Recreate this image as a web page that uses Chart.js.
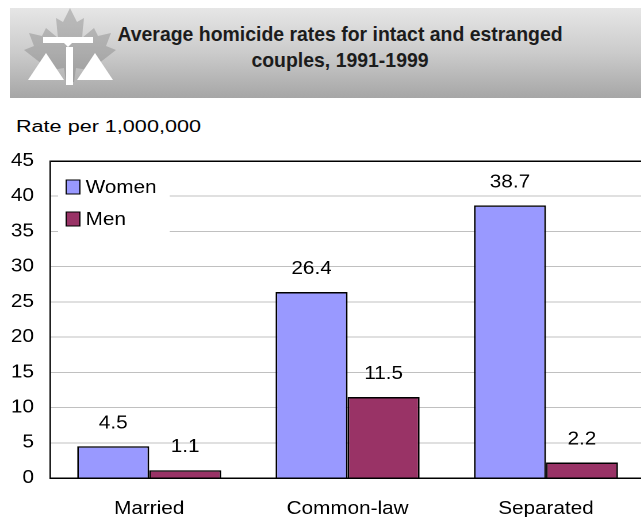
<!DOCTYPE html>
<html>
<head>
<meta charset="utf-8">
<script src="https://cdn.jsdelivr.net/npm/chart.js@4"></script>
<style>
  html, body { margin: 0; padding: 0; background: #fff; overflow: hidden; }
  body { width: 641px; height: 517px; position: relative; font-family: "Liberation Sans", Arial, sans-serif; }
  .banner {
    position: absolute; left: 10px; top: 8px; width: 631px; height: 90px;
    background: linear-gradient(to bottom, #e6e6e6 0%, #cbcbcb 50%, #a6a6a6 100%);
    overflow: hidden;
  }
  .banner svg { position: absolute; left: 0; top: 0; }
  .banner__title {
    position: absolute; left: 330px; top: 13px; white-space: nowrap;
    text-align: center; color: #1c1c1c;
    font-family: "Liberation Sans", Arial, sans-serif;
    font-weight: bold; font-size: 21px; line-height: 26px;
    transform: translateX(-50%);
  }
  .unit { position: absolute; left: 16px; top: 118px; font-size: 16px; color: #000; white-space: nowrap;
          transform: scaleX(1.35); transform-origin: 0 0; }
  /* the source picture is a little wider than tall, so the chart is stretched sideways */
  .stretch { position: absolute; left: 0; top: 0; width: 574px; height: 517px; transform: scaleX(1.15); transform-origin: 0 0; }
  #chart { position: absolute; left: 0; top: 0; }
</style>
</head>
<body>
<div class="banner">
  <svg width="120" height="90" viewBox="0 0 120 90">
    <!-- maple leaf -->
    <path fill="rgba(120,120,120,0.38)" d="M60 0 L67 14 L74 10 L72 30 L84 20 L88 28 L101 25 L96 38 L106 42 L88 56 L90 64 L66 60 L64 74 L56 74 L54 60 L30 64 L32 56 L14 42 L24 38 L19 25 L32 28 L36 20 L48 30 L46 10 L53 14 Z"/>
    <!-- scales -->
    <polygon fill="#fff" points="33,29 83,29 83,35 62,35 58,39 54,35 33,35"/>
    <rect fill="#fff" x="56" y="39" width="7" height="38"/>
    <polygon fill="#fff" points="36,45 54,72 18,72"/>
    <polygon fill="#fff" points="85,45 103,72 67,72"/>
  </svg>
  <div class="banner__title" id="title">Average homicide rates for intact and estranged<br>couples, 1991-1999</div>
</div>

<div class="unit">Rate per 1,000,000</div>
<div class="stretch">
  <canvas id="chart" width="574" height="517"></canvas>
</div>

<script>
'use strict';

const categories = ['Married', 'Common-law', 'Separated'];
const seriesNames = ['Women', 'Men'];
const womenRates = [4.5, 26.4, 38.7];
const menRates = [1.1, 11.5, 2.2];
const yTickStep = 5;
const yMax = 45;

const FONT = '"Liberation Sans", Arial, sans-serif';
const colors = ['#9999ff', '#993366'];

// title uses a narrow face in the source; squeeze a regular bold one to the same width
const title = document.getElementById('title');
title.style.transform = `translateX(-50%) scaleX(${(445 / title.offsetWidth).toFixed(3)})`;

// value labels above each bar
const valueLabels = {
  id: 'valueLabels',
  afterDatasetsDraw(chart) {
    const ctx = chart.ctx;
    ctx.save();
    ctx.font = `18px ${FONT}`;
    ctx.fillStyle = '#000';
    ctx.textAlign = 'center';
    ctx.textBaseline = 'middle';
    chart.data.datasets.forEach((ds, di) => {
      chart.getDatasetMeta(di).data.forEach((bar, i) => {
        ctx.fillText(ds.data[i].toFixed(1), bar.x, bar.y - 23);
      });
    });
    ctx.restore();
  }
};

// legend box sitting inside the plot area
const innerLegend = {
  id: 'innerLegend',
  afterDraw(chart) {
    const ctx = chart.ctx;
    const x = chart.chartArea.left + 7, y = chart.chartArea.top + 9;
    ctx.save();
    ctx.fillStyle = '#fff';
    ctx.fillRect(x, y, 97, 64);
    ctx.font = `18px ${FONT}`;
    ctx.textBaseline = 'middle';
    chart.data.datasets.forEach((ds, i) => {
      const cy = y + 17 + i * 32;
      ctx.fillStyle = ds.backgroundColor;
      ctx.fillRect(x + 7, cy - 7, 12, 14);
      ctx.strokeStyle = '#000';
      ctx.lineWidth = 1;
      ctx.strokeRect(x + 7, cy - 7, 12, 14);
      ctx.fillStyle = '#000';
      ctx.fillText(ds.label, x + 24, cy + 1);
    });
    ctx.restore();
  }
};

new Chart(document.getElementById('chart'), {
  type: 'bar',
  data: {
    labels: categories,
    datasets: [
      { label: seriesNames[0], data: womenRates, backgroundColor: colors[0] },
      { label: seriesNames[1], data: menRates, backgroundColor: colors[1] }
    ].map(d => ({ ...d, borderColor: '#000', borderWidth: 1.5, categoryPercentage: 0.726, barPercentage: 1 }))
  },
  options: {
    responsive: false,
    animation: false,
    devicePixelRatio: 2,
    layout: { padding: { top: 161, left: 0, right: 13, bottom: 0 } },
    plugins: { legend: { display: false }, tooltip: { enabled: false } },
    scales: {
      x: {
        grid: { display: false, drawTicks: false },
        border: { display: true, color: '#000', width: 1.5 },
        ticks: { color: '#000', font: { family: FONT, size: 18 }, padding: 20 },
        afterFit: s => { s.height = 39; }
      },
      y: {
        min: 0, max: yMax,
        grid: {
          color: c => (c.tick.value === yMax ? '#000' : '#c0c0c0'),
          lineWidth: c => (c.tick.value === yMax ? 1.5 : 1),
          drawTicks: false
        },
        border: { display: true, color: '#000', width: 1.3 },
        ticks: { stepSize: yTickStep, color: '#000', font: { family: FONT, size: 18 }, padding: 14 },
        afterFit: s => { s.width = 43.5; }
      }
    }
  },
  plugins: [valueLabels, innerLegend]
});
</script>
</body>
</html>
